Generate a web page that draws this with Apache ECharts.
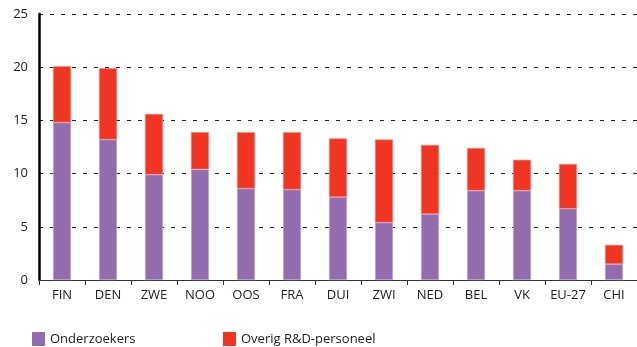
<!DOCTYPE html>
<html>
<head>
<meta charset="utf-8">
<script src="https://cdn.jsdelivr.net/npm/echarts@6/dist/echarts.min.js"></script>
<style>
  html, body { margin: 0; padding: 0; background: #fff; }
  #chart { width: 637px; height: 347px; }
</style>
</head>
<body>
<div id="chart"></div>
<script>
// R&D-personeel per land (per 1000 werkzame personen), uitgesplitst
const categories = ['FIN', 'DEN', 'ZWE', 'NOO', 'OOS', 'FRA', 'DUI', 'ZWI', 'NED', 'BEL', 'VK', 'EU-27', 'CHI'];
const onderzoekers = [14.8, 13.2, 9.9, 10.4, 8.6, 8.5, 7.8, 5.4, 6.2, 8.4, 8.4, 6.7, 1.5];
const overigPersoneel = [5.3, 6.7, 5.7, 3.5, 5.3, 5.4, 5.5, 7.8, 6.5, 4.0, 2.9, 4.2, 1.8];
const yTicks = [0, 5, 10, 15, 20, 25];

const FONT = '"Open Sans", "Noto Sans", sans-serif';
const PURPLE = '#936cae';
const RED = '#f03523';

const legendBase = {
  bottom: 1,
  padding: 0,
  itemWidth: 13,
  itemHeight: 14,
  icon: 'rect',
  itemStyle: { borderWidth: 0 },
  textStyle: { fontFamily: FONT, fontSize: 13, color: '#222' }
};

const chart = echarts.init(document.getElementById('chart'), null, { renderer: 'canvas' });

chart.setOption({
  animation: false,
  grid: { left: 39, right: 0, top: 14, bottom: 67, containLabel: false },
  legend: [
    Object.assign({ left: 32, data: ['Onderzoekers'] }, legendBase),
    Object.assign({ left: 223, data: ['Overig R&D-personeel'] }, legendBase)
  ],
  xAxis: {
    type: 'category',
    data: categories,
    axisLine: { lineStyle: { color: '#333', width: 1 } },
    axisTick: { show: true, length: 5, lineStyle: { color: '#333' } },
    axisLabel: { interval: 0, fontFamily: FONT, fontSize: 13, color: '#222', margin: 9 }
  },
  yAxis: {
    type: 'value',
    min: yTicks[0],
    max: yTicks[yTicks.length - 1],
    interval: 5,
    axisLine: { show: true, lineStyle: { color: '#000', width: 2.5 } },
    axisTick: { show: false },
    axisLabel: { fontFamily: FONT, fontSize: 13, color: '#222', margin: 11 },
    splitLine: { lineStyle: { color: '#222', type: [4, 7], width: 1 } }
  },
  series: [
    {
      name: 'Onderzoekers',
      type: 'bar',
      stack: 'totaal',
      barWidth: 18,
      data: onderzoekers,
      itemStyle: { color: PURPLE, borderColor: '#c9b3d9', borderWidth: 0.6 }
    },
    {
      name: 'Overig R&D-personeel',
      type: 'bar',
      stack: 'totaal',
      barWidth: 18,
      data: overigPersoneel,
      itemStyle: { color: RED, borderColor: '#f58a80', borderWidth: 0.6 }
    }
  ]
});
</script>
</body>
</html>
